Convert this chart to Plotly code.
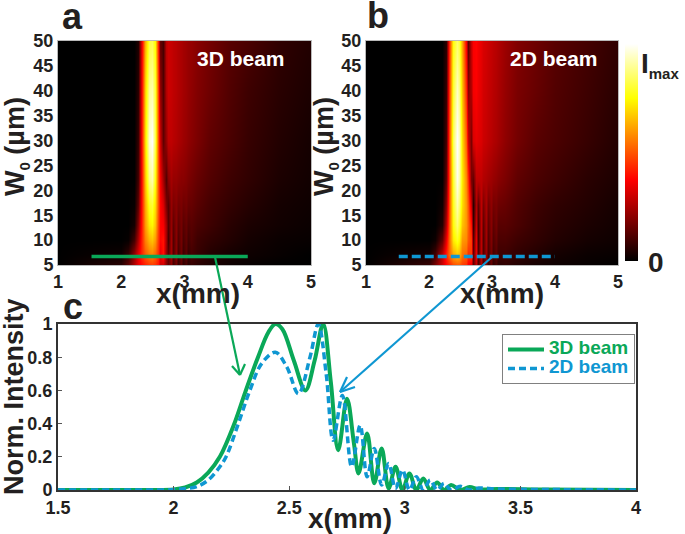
import plotly.graph_objects as go

W, H = 685, 534
FONT = "Liberation Sans"
INK = "#231f20"
GREEN = "#0aa858"
BLUE = "#0f97d2"

# heatmap grid (a and b share it)
X_GRID = [1.0, 2.0, 2.1, 2.2, 2.27, 2.32, 2.38, 2.44, 2.48, 2.53, 2.58, 2.62, 2.66, 2.70, 2.74,
          2.78, 2.82, 2.86, 2.9, 2.94, 2.98, 3.02, 3.06, 3.1, 3.2, 3.4, 3.7, 4.0, 4.5, 5.0]
W0_GRID = [5, 7, 10, 13, 17, 22, 30, 40, 51]

BEAM_3D = [
    [0, .06, .14, .26, .34, .38, .42, .45, .46, .44, .40, .30, .30, .20, .14, .20, .10, .16, .08, .13, .07, .10, .06, .08, .06, .04, .02, .01, 0, 0],
    [0, .02, .08, .22, .34, .42, .50, .55, .56, .52, .44, .34, .40, .22, .14, .24, .12, .20, .10, .16, .09, .13, .08, .10, .08, .05, .03, .02, .01, 0],
    [0, 0, .01, .10, .26, .40, .56, .64, .66, .60, .46, .38, .40, .24, .10, .24, .12, .20, .12, .17, .11, .14, .10, .12, .09, .07, .05, .03, .015, .01],
    [0, 0, 0, .03, .20, .38, .60, .72, .74, .66, .48, .38, .36, .24, .12, .22, .14, .20, .14, .17, .13, .15, .12, .13, .11, .09, .06, .04, .025, .015],
    [0, 0, 0, .01, .14, .36, .62, .78, .80, .70, .50, .38, .32, .18, .12, .22, .18, .20, .17, .18, .16, .17, .15, .15, .13, .10, .075, .055, .03, .02],
    [0, 0, 0, 0, .10, .34, .66, .88, .92, .76, .50, .36, .24, .12, .20, .24, .22, .22, .21, .20, .20, .19, .18, .17, .15, .12, .09, .07, .04, .025],
    [0, 0, 0, 0, .08, .34, .70, .96, 1.0, .82, .50, .30, .14, .22, .28, .28, .27, .26, .25, .24, .23, .22, .21, .20, .18, .14, .11, .08, .05, .03],
    [0, 0, 0, 0, .06, .32, .68, .90, .92, .80, .48, .22, .12, .26, .30, .29, .28, .27, .26, .25, .24, .23, .22, .21, .19, .16, .12, .09, .06, .04],
    [0, 0, 0, 0, .04, .30, .62, .80, .82, .74, .42, .14, .10, .28, .30, .29, .28, .27, .26, .25, .24, .23, .22, .22, .20, .17, .13, .11, .07, .05],
]
BEAM_2D = [
    [0, .08, .18, .30, .38, .42, .48, .50, .50, .46, .44, .36, .34, .14, .28, .12, .24, .10, .18, .08, .14, .07, .10, .06, .07, .05, .03, .02, .01, 0],
    [0, .03, .10, .28, .42, .52, .62, .66, .64, .54, .52, .44, .46, .14, .34, .12, .28, .12, .22, .11, .17, .10, .13, .09, .09, .07, .05, .03, .015, .01],
    [0, 0, .02, .14, .34, .52, .72, .78, .74, .60, .58, .50, .46, .12, .34, .10, .28, .12, .24, .12, .19, .12, .15, .11, .11, .09, .07, .05, .03, .02],
    [0, 0, 0, .05, .26, .50, .76, .86, .80, .66, .60, .52, .40, .08, .30, .10, .28, .14, .24, .14, .20, .14, .17, .13, .13, .11, .08, .06, .04, .025],
    [0, 0, 0, .02, .20, .48, .78, .92, .86, .70, .60, .50, .30, .06, .26, .14, .28, .18, .25, .17, .21, .17, .18, .16, .15, .12, .09, .07, .05, .03],
    [0, 0, 0, 0, .14, .46, .80, .98, .92, .72, .58, .44, .18, .14, .28, .28, .28, .26, .25, .24, .23, .22, .21, .20, .18, .14, .11, .09, .06, .04],
    [0, 0, 0, 0, .10, .46, .84, 1.0, .94, .70, .52, .30, .18, .32, .34, .33, .32, .30, .29, .28, .27, .26, .25, .24, .21, .17, .13, .11, .08, .05],
    [0, 0, 0, 0, .08, .44, .80, .94, .88, .66, .44, .20, .26, .36, .37, .35, .33, .31, .30, .29, .28, .27, .26, .25, .22, .18, .15, .12, .09, .06],
    [0, 0, 0, 0, .06, .42, .76, .84, .80, .62, .36, .12, .30, .37, .38, .36, .34, .32, .31, .30, .29, .28, .27, .26, .23, .19, .16, .13, .10, .07],
]

HOT = [[0, "#000000"], [0.375, "#ff0000"], [0.75, "#ffff00"], [1, "#ffffff"]]

# panel c curves, read peak by peak
X_3D = [1.5, 1.9, 2.0, 2.05, 2.1, 2.15, 2.2, 2.26, 2.31, 2.365, 2.41, 2.44, 2.47, 2.52, 2.57, 2.61, 2.647, 2.68,
        2.712, 2.75, 2.78, 2.80, 2.837, 2.868, 2.9, 2.93, 2.96, 2.99, 3.02, 3.05, 3.08, 3.11, 3.14, 3.17, 3.2,
        3.24, 3.28, 3.32, 3.4, 3.6, 4.0]
Y_3D = [0, 0, .003, .015, .045, .105, .2, .39, .59, .8, .95, 1.0, .97, .78, .6, .78, 1.0, .65,
        .24, .55, .28, .1, .34, .04, .25, .01, .14, .0, .1, .0, .07, .0, .045, .0, .03,
        .0, .018, .004, .006, .003, 0]
X_2D = [1.5, 1.9, 2.0, 2.05, 2.1, 2.15, 2.2, 2.227, 2.28, 2.33, 2.38, 2.44, 2.49, 2.54, 2.59, 2.626, 2.66,
        2.69, 2.73, 2.77, 2.807, 2.837, 2.868, 2.9, 2.93, 2.96, 2.99, 3.02, 3.05, 3.08, 3.11, 3.14, 3.17, 3.2,
        3.24, 3.28, 3.32, 3.4, 3.6, 4.0]
Y_2D = [0, 0, .002, .008, .02, .06, .14, .2, .4, .6, .76, .83, .74, .58, .8, 1.0, .7,
        .30, .57, .14, .39, .08, .25, .03, .16, .01, .12, .0, .08, .0, .06, .0, .04, .0,
        .022, .0, .012, .006, .003, 0]

# where the two cuts sit in panels a and b
CUT_3D_X = [1.53, 4.0]
CUT_3D_W0 = [6.7, 6.7]
CUT_2D_X = [1.52, 4.0]
CUT_2D_W0 = [6.7, 6.7]


def px(x):
    return x / W


def py(y):
    return 1 - y / H


def axis_font(size=18):
    return dict(family=FONT, size=size, color=INK, weight=700)


def label(x, y, text, size, angle=0, color=INK):
    return dict(x=px(x), y=py(y), xref="paper", yref="paper", text=text, showarrow=False,
                textangle=angle, xanchor="center", yanchor="middle",
                font=dict(family=FONT, size=size, color=color, weight=700))


def arrow(points, color):
    return [dict(type="line", xref="paper", yref="paper", x0=px(a[0]), y0=py(a[1]), x1=px(b[0]), y1=py(b[1]),
                 line=dict(color=color, width=2.2), layer="above")
            for a, b in points]


def legend_name(text, color):
    # small legend font keeps the rows tight, the span sets the visible size
    return f'<span style="color:{color};font-size:19px"><b>{text}</b></span>'


W0_TITLE = 'W<sub><span style="font-size:15px">0</span></sub> (µm)'
IMAX = 'I<sub><span style="font-size:15px">max</span></sub>'

fig = go.Figure()

fig.add_trace(go.Heatmap(x=X_GRID, y=W0_GRID, z=BEAM_3D, colorscale=HOT, zmin=0, zmax=1, zsmooth="best",
                         xaxis="x", yaxis="y", showscale=False, showlegend=False))
fig.add_trace(go.Heatmap(x=X_GRID, y=W0_GRID, z=BEAM_2D, colorscale=HOT, zmin=0, zmax=1, zsmooth="best",
                         xaxis="x2", yaxis="y2", showlegend=False,
                         colorbar=dict(x=px(625), xanchor="left", y=py(152.5), yanchor="middle",
                                       thickness=13, thicknessmode="pixels", len=217, lenmode="pixels",
                                       outlinewidth=0, ticks="", showticklabels=False, xpad=0, ypad=0)))

fig.add_trace(go.Scatter(x=CUT_3D_X, y=CUT_3D_W0, mode="lines", xaxis="x", yaxis="y", showlegend=False,
                         line=dict(color=GREEN, width=3.5)))
fig.add_trace(go.Scatter(x=CUT_2D_X, y=CUT_2D_W0, mode="lines", xaxis="x2", yaxis="y2", showlegend=False,
                         line=dict(color=BLUE, width=3.5, dash="9px,4px")))

fig.add_trace(go.Scatter(x=X_3D, y=Y_3D, mode="lines", xaxis="x3", yaxis="y3", line_shape="spline",
                         name=legend_name("3D beam", GREEN),
                         line=dict(color=GREEN, width=4)))
fig.add_trace(go.Scatter(x=X_2D, y=Y_2D, mode="lines", xaxis="x3", yaxis="y3", line_shape="spline",
                         name=legend_name("2D beam", BLUE),
                         line=dict(color=BLUE, width=3.5, dash="7px,4px")))

map_x = dict(range=[1, 5], tickvals=[1, 2, 3, 4, 5], ticks="", showgrid=False, zeroline=False, automargin=False,
             showline=True, mirror=True, linecolor="#b9b9b9", linewidth=1, tickfont=axis_font(), ticklen=0)
map_y = dict(range=[5, 50], tickvals=list(range(5, 51, 5)), ticks="", showgrid=False, zeroline=False, automargin=False,
             showline=True, mirror=True, linecolor="#b9b9b9", linewidth=1, tickfont=axis_font(), ticklen=0)

fig.update_layout(
    width=W,
    height=H,
    autosize=False,
    margin=dict(l=0, r=0, t=0, b=0, autoexpand=False),
    paper_bgcolor="white",
    plot_bgcolor="white",
    xaxis=dict(domain=[px(58), px(311)], anchor="y", **map_x),
    yaxis=dict(domain=[py(265), py(41)], anchor="x", **map_y),
    xaxis2=dict(domain=[px(366), px(618)], anchor="y2", **map_x),
    yaxis2=dict(domain=[py(265), py(41)], anchor="x2", **map_y),
    xaxis3=dict(domain=[px(58), px(636)], anchor="y3", range=[1.5, 4], tickvals=[1.5, 2, 2.5, 3, 3.5, 4],
                ticktext=["1.5", "2", "2.5", "3", "3.5", "4"], ticks="inside", ticklen=4, tickwidth=1,
                tickcolor="#555555", showgrid=False, zeroline=False, showline=True, mirror=True, automargin=False,
                linecolor="#333333", linewidth=2, tickfont=axis_font()),
    yaxis3=dict(domain=[py(490), py(324)], anchor="x3", range=[0, 1], tickvals=[0, .2, .4, .6, .8, 1],
                ticktext=["0", "0.2", "0.4", "0.6", "0.8", "1"], ticks="inside", ticklen=4, tickwidth=1,
                tickcolor="#555555", showgrid=False, zeroline=False, showline=True, mirror=True, automargin=False,
                linecolor="#333333", linewidth=2, tickfont=axis_font()),
    legend=dict(x=px(502), y=py(334), xanchor="left", yanchor="top", bgcolor="white",
                bordercolor="#808080", borderwidth=1, font=dict(family=FONT, size=12),
                itemwidth=36, tracegroupgap=0),
    annotations=[
        label(72, 17, "a", 36),
        label(378, 16, "b", 36),
        label(73, 306, "c", 36),
        label(241, 58, "3D beam", 21, color="white"),
        label(554, 58, "2D beam", 21, color="white"),
        label(16, 147, W0_TITLE, 27, angle=-90),
        label(325, 147, W0_TITLE, 27, angle=-90),
        label(198, 293, "x(mm)", 28),
        label(502, 293, "x(mm)", 28),
        label(350, 518, "x(mm)", 28),
        label(14, 397, "Norm. Intensity", 27, angle=-90),
        label(660, 65, IMAX, 28),
        label(656, 262, "0", 28),
    ],
    shapes=arrow([((215, 257), (240, 375)), ((240, 375), (232, 366)), ((240, 375), (245, 364))], GREEN)
    + arrow([((492, 257), (340, 392)), ((340, 392), (347, 377)), ((340, 392), (355, 387))], BLUE),
)

fig.write_html("out.html", post_script="document.body.style.margin = '0';", config=dict(displayModeBar=False))
